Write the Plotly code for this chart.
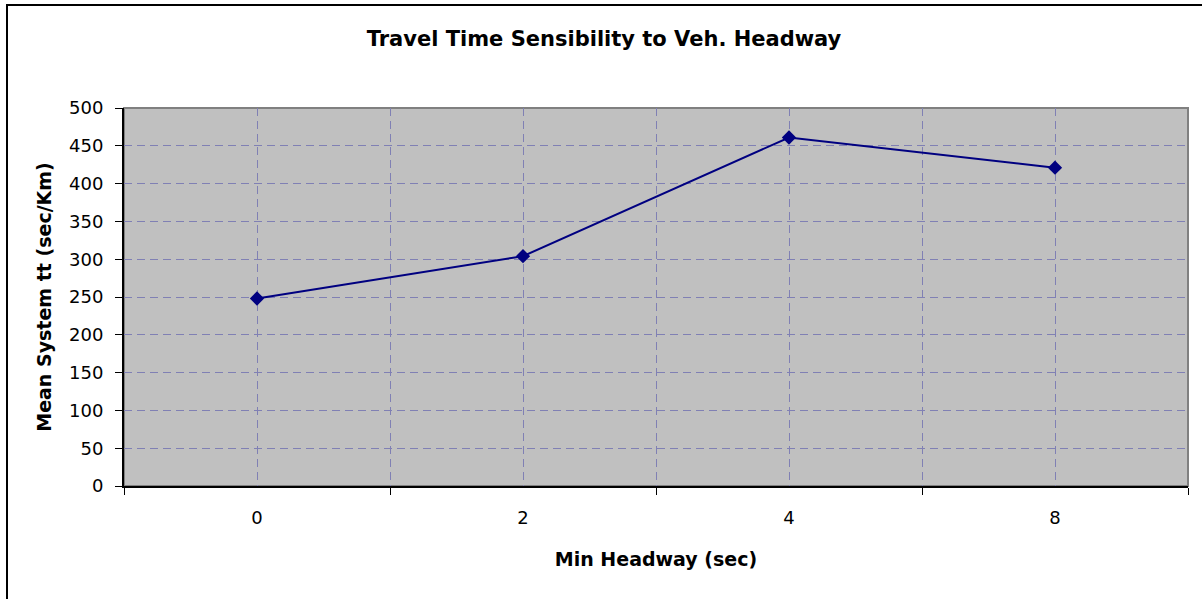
import plotly.graph_objects as go

categories = ["0", "2", "4", "8"]
travel_time = [248, 304, 461, 421]
y_ticks = [0, 50, 100, 150, 200, 250, 300, 350, 400, 450, 500]

title_text = "Travel Time Sensibility to Veh. Headway"
x_title = "Min Headway (sec)"
y_title = "Mean System tt (sec/Km)"

W, H = 1202, 599
L, R, T, B = 124, 14, 108, 113
PW, PH = W - L - R, H - T - B

FONT = "DejaVu Sans, Verdana, sans-serif"
GRID = "#8080b4"

idx = list(range(len(categories)))
bounds = [i - 0.5 for i in range(len(categories) + 1)]

fig = go.Figure()
fig.add_trace(go.Scatter(
    x=idx, y=travel_time, mode="lines+markers",
    line=dict(color="#000080", width=2),
    marker=dict(symbol="diamond", size=11, color="#000080"),
    showlegend=False, hoverinfo="x+y",
))

fig.update_layout(
    width=W, height=H,
    margin=dict(l=L, r=R, t=T, b=B, pad=0),
    paper_bgcolor="white",
    plot_bgcolor="#c0c0c0",
    font=dict(family=FONT, size=18, color="black"),
    title=dict(text="<b>" + title_text + "</b>", font=dict(size=21, color="black"),
               xref="container", yref="container", x=604 / W, xanchor="center",
               y=1 - 39 / H, yanchor="middle"),
    xaxis=dict(
        range=[-0.5, len(categories) - 0.5],
        tickmode="array", tickvals=idx, ticktext=categories,
        ticks="", showgrid=True, gridcolor=GRID, gridwidth=1, griddash="8px,5px",
        showline=True, linecolor="black", linewidth=2,
        zeroline=False,
        ticklabelstandoff=14,
        minor=dict(tickmode="array", tickvals=bounds, ticks="outside", ticklen=7,
                   tickcolor="black", tickwidth=1, showgrid=True, gridcolor=GRID,
                   gridwidth=1, griddash="8px,5px"),
        title=dict(text="<b>" + x_title + "</b>", font=dict(size=19), standoff=26),
        fixedrange=True,
    ),
    yaxis=dict(
        range=[0, 500], tickmode="array", tickvals=y_ticks,
        ticks="outside", ticklen=7, tickcolor="black", tickwidth=1,
        showgrid=True, gridcolor=GRID, gridwidth=1, griddash="8px,5px",
        showline=True, linecolor="black", linewidth=2,
        zeroline=False,
        ticklabelstandoff=8,
        title=dict(text="<b>" + y_title + "</b>", font=dict(size=19), standoff=12),
        fixedrange=True,
    ),
    shapes=[
        dict(type="rect", xref="x domain", yref="y domain", x0=0, x1=1, y0=0, y1=1,
             line=dict(color="#808080", width=2), fillcolor="rgba(0,0,0,0)", layer="below"),
        dict(type="rect", xref="paper", yref="paper",
             x0=(7 - L) / PW, x1=(W + 20 - L) / PW,
             y0=-(B + 20) / PH, y1=(H - B - 5) / PH,
             line=dict(color="black", width=2), fillcolor="rgba(0,0,0,0)", layer="below"),
    ],
)

fig.write_html(
    "out.html",
    config={"displayModeBar": False},
    post_script="document.body.style.margin='0';document.body.style.overflow='hidden';",
)
